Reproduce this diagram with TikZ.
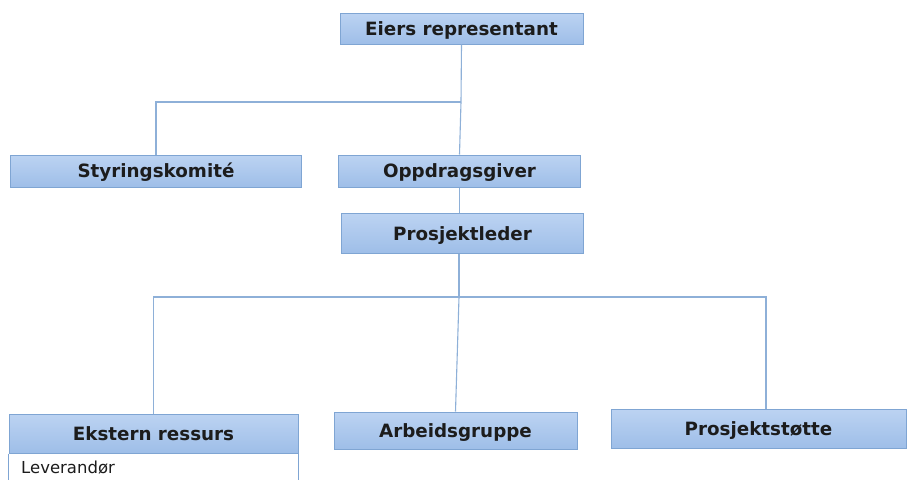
\documentclass[tikz,border=0pt]{standalone}
\usepackage{fontspec}
\setmainfont{DejaVu Sans}
\usetikzlibrary{calc}
\definecolor{boxtop}{HTML}{BCD3F2}
\definecolor{boxbot}{HTML}{9EBEE8}
\definecolor{boxline}{HTML}{7FA5D3}
\definecolor{linkcol}{HTML}{8EB0D8}
\definecolor{ink}{HTML}{1C1C1C}
\tikzset{
  orgbox/.style={rectangle, draw=boxline, line width=1pt, top color=boxtop, bottom color=boxbot,
    text=ink, font=\fontsize{18.3}{20}\selectfont\bfseries, inner sep=0pt,
    text height=13pt, text depth=0pt},
  link/.style={draw=linkcol, line width=1.1pt},
}
\begin{document}
\begin{tikzpicture}[x=1pt,y=-1pt]
\useasboundingbox (0,0) rectangle (907,479);
\fill[white] (0,0) rectangle (907,479);
\begin{scope}
\clip (0,0) rectangle (907,479);
% boxes
\node[orgbox, minimum width=243pt, minimum height=31pt] (eiers) at (461.5,28.5) {Eiers representant};
\node[orgbox, minimum width=291pt, minimum height=32pt] (styr) at (156,171) {Styringskomité};
\node[orgbox, minimum width=242pt, minimum height=32pt] (oppdrag) at (459.5,171) {Oppdragsgiver};
\node[orgbox, minimum width=242pt, minimum height=40pt] (pl) at (462.5,233.5) {Prosjektleder};
\node[orgbox, minimum width=289pt, minimum height=39pt] (ekst) at (153.5,433.5) {Ekstern ressurs};
\node[orgbox, minimum width=243pt, minimum height=37pt] (arb) at (455.5,430.5) {Arbeidsgruppe};
\node[orgbox, minimum width=295pt, minimum height=39pt] (stotte) at (758.5,428.5) {Prosjektstøtte};
% open list area under the external resource header
\draw[boxline, line width=1pt] (ekst.south west) -- ++(0,30) (ekst.south east) -- ++(0,30);
\node[anchor=base west, text=ink, font=\fontsize{16.5}{18}\selectfont, inner sep=0pt] (lev) at (21,473) {Leverandør};
% junction points
\coordinate (ja) at (461,102);
\coordinate (jb) at (459,297);
\coordinate (jr) at (766,297);
% connectors
\draw[link] (eiers.south) -- (ja);
\draw[link] (ja) -| (styr.north);
\draw[link] (ja) -- (oppdrag.north);
\draw[link] (oppdrag.south) -- (oppdrag.south |- pl.north);
\draw[link] (jb |- pl.south) -- (jb);
\draw[link] (ekst.north) |- (jr) -- (jr |- stotte.north);
\draw[link] (jb) -- (arb.north);
\end{scope}
\end{tikzpicture}
\end{document}
